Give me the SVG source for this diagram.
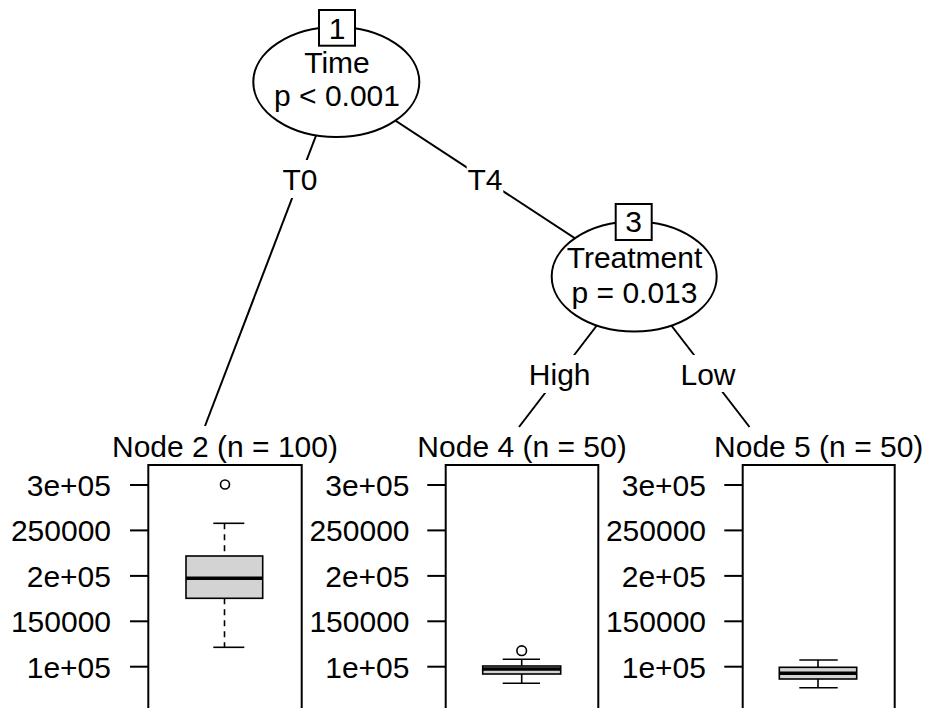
<svg xmlns="http://www.w3.org/2000/svg" width="926" height="708" viewBox="0 0 926 708">
<style>
text{font-family:"Liberation Sans",Arial,sans-serif;font-size:30px;fill:#000}
.m{text-anchor:middle}
.e{text-anchor:end}
.edge{stroke:#000;stroke-width:2;fill:none}
.bg{fill:#fff;stroke:none}
.ell{fill:#fff;stroke:#000;stroke-width:2}
.idb{fill:#fff;stroke:#000;stroke-width:2}
.panel{fill:#fff;stroke:#000;stroke-width:2}
.tick{stroke:#000;stroke-width:2}
.bx{fill:#d3d3d3;stroke:#000;stroke-width:1.6}
.med{stroke:#000;stroke-width:3.5}
.wh{stroke:#000;stroke-width:1.6;stroke-dasharray:6 5}
.cap{stroke:#000;stroke-width:1.6}
.out{fill:none;stroke:#000;stroke-width:1.6}
</style>
<rect width="926" height="708" fill="#fff"/>
<g id="connectors">
  <line class="edge" x1="336.5" y1="82" x2="205" y2="426"/>
  <line class="edge" x1="336.5" y1="82" x2="634" y2="277"/>
  <line class="edge" x1="634" y1="277" x2="519" y2="427"/>
  <line class="edge" x1="634" y1="277" x2="749.5" y2="427"/>
  <rect class="bg" x="282" y="160" width="36" height="38"/>
  <rect class="bg" x="466.7" y="161" width="36.6" height="38"/>
  <rect class="bg" x="527" y="355" width="65" height="38"/>
  <rect class="bg" x="679" y="355" width="58" height="37"/>
  <text class="m" x="300" y="190">T0</text>
  <text class="m" x="485" y="190">T4</text>
  <text class="m" x="559.7" y="385">High</text>
  <text class="m" x="708" y="385">Low</text>
</g>
<g id="node1">
  <ellipse class="ell" cx="336.3" cy="82" rx="83" ry="55"/>
  <rect class="idb" x="319" y="10" width="36" height="35.7"/>
  <text class="m" x="337" y="39">1</text>
  <text class="m" x="337" y="73">Time</text>
  <text class="m" x="337" y="105.7">p &lt; 0.001</text>
</g>
<g id="node3">
  <ellipse class="ell" cx="634.2" cy="276.5" rx="82.5" ry="55"/>
  <rect class="idb" x="615.7" y="204" width="36" height="36"/>
  <text class="m" x="633.7" y="231.7">3</text>
  <text class="m" x="634.5" y="267.7">Treatment</text>
  <text class="m" x="634.5" y="303.3">p = 0.013</text>
</g>
<g id="node2">
  <text class="m" x="225" y="456.5">Node 2 (n = 100)</text>
  <rect class="panel" x="148.3" y="465" width="153.4" height="260"/>
  <g class="tick">
    <line x1="130" y1="485" x2="148.3" y2="485"/>
    <line x1="130" y1="530.4" x2="148.3" y2="530.4"/>
    <line x1="130" y1="575.9" x2="148.3" y2="575.9"/>
    <line x1="130" y1="621.3" x2="148.3" y2="621.3"/>
    <line x1="130" y1="666.7" x2="148.3" y2="666.7"/>
  </g>
  <text class="e" x="111" y="495.8">3e+05</text>
  <text class="e" x="111" y="541.2">250000</text>
  <text class="e" x="111" y="586.7">2e+05</text>
  <text class="e" x="111" y="632.1">150000</text>
  <text class="e" x="111" y="677.5">1e+05</text>
  <line class="wh" x1="224.5" y1="523.3" x2="224.5" y2="556"/>
  <line class="wh" x1="224.5" y1="598.3" x2="224.5" y2="647.3"/>
  <line class="cap" x1="213.3" y1="523.3" x2="244.3" y2="523.3"/>
  <line class="cap" x1="213.3" y1="647.3" x2="244.3" y2="647.3"/>
  <rect class="bx" x="186" y="556" width="76.7" height="42.3"/>
  <line class="med" x1="186" y1="578.3" x2="262.7" y2="578.3"/>
  <circle class="out" cx="225" cy="484.5" r="4.5"/>
</g>
<g id="node4">
  <text class="m" x="522" y="456.5">Node 4 (n = 50)</text>
  <rect class="panel" x="445.7" y="465" width="152.6" height="260"/>
  <g class="tick">
    <line x1="427.3" y1="485" x2="445.7" y2="485"/>
    <line x1="427.3" y1="530.4" x2="445.7" y2="530.4"/>
    <line x1="427.3" y1="575.9" x2="445.7" y2="575.9"/>
    <line x1="427.3" y1="621.3" x2="445.7" y2="621.3"/>
    <line x1="427.3" y1="666.7" x2="445.7" y2="666.7"/>
  </g>
  <text class="e" x="409.5" y="495.8">3e+05</text>
  <text class="e" x="409.5" y="541.2">250000</text>
  <text class="e" x="409.5" y="586.7">2e+05</text>
  <text class="e" x="409.5" y="632.1">150000</text>
  <text class="e" x="409.5" y="677.5">1e+05</text>
  <line class="cap" x1="521.7" y1="659.3" x2="521.7" y2="666"/>
  <line class="cap" x1="521.7" y1="674" x2="521.7" y2="683.3"/>
  <line class="cap" x1="502.7" y1="659.3" x2="540" y2="659.3"/>
  <line class="cap" x1="502.7" y1="683.3" x2="540" y2="683.3"/>
  <rect class="bx" x="482.7" y="666" width="78" height="8"/>
  <line class="med" x1="482.7" y1="669" x2="560.7" y2="669"/>
  <circle class="out" cx="521.7" cy="650.7" r="4.8"/>
</g>
<g id="node5">
  <text class="m" x="818.7" y="456.5">Node 5 (n = 50)</text>
  <rect class="panel" x="742.7" y="465" width="152" height="260"/>
  <g class="tick">
    <line x1="724.3" y1="485" x2="742.7" y2="485"/>
    <line x1="724.3" y1="530.4" x2="742.7" y2="530.4"/>
    <line x1="724.3" y1="575.9" x2="742.7" y2="575.9"/>
    <line x1="724.3" y1="621.3" x2="742.7" y2="621.3"/>
    <line x1="724.3" y1="666.7" x2="742.7" y2="666.7"/>
  </g>
  <text class="e" x="706" y="495.8">3e+05</text>
  <text class="e" x="706" y="541.2">250000</text>
  <text class="e" x="706" y="586.7">2e+05</text>
  <text class="e" x="706" y="632.1">150000</text>
  <text class="e" x="706" y="677.5">1e+05</text>
  <line class="cap" x1="818" y1="660" x2="818" y2="667.3"/>
  <line class="cap" x1="818" y1="679" x2="818" y2="687.7"/>
  <line class="cap" x1="799.3" y1="660" x2="837.7" y2="660"/>
  <line class="cap" x1="799.3" y1="687.7" x2="837.7" y2="687.7"/>
  <rect class="bx" x="779.3" y="667.3" width="77.4" height="11.7"/>
  <line class="med" x1="779.3" y1="673.3" x2="856.7" y2="673.3"/>
</g>
</svg>
